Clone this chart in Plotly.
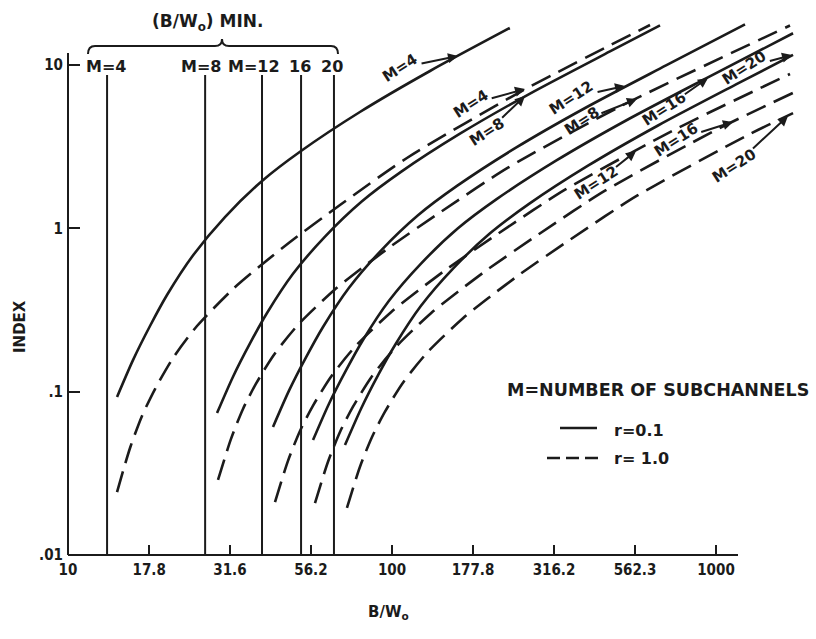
import plotly.graph_objects as go

# ---------------------------------------------------------------
# data
# ---------------------------------------------------------------
M_VALUES = [4, 8, 12, 16, 20]
BW_MIN = [13.2, 26.5, 39.7, 52.4, 66.2]          # (B/W0) minimum per M

# r = 0.1 (solid)
bw_r01_m4 = [14.17, 15.87, 17.91, 20.21, 24.36, 30.51, 39.71, 52.38, 79.6, 131.0, 231]
idx_r01_m4 = [0.0928, 0.156, 0.2523, 0.3906, 0.6867, 1.173, 1.95, 2.975, 5.155, 9.19, 16.85]
bw_r01_m8 = [28.84, 32.31, 36.45, 41.14, 49.48, 62.12, 80.8, 106.6, 162.1, 266.7, 470.8, 671.8]
idx_r01_m8 = [0.0740, 0.1235, 0.1975, 0.3031, 0.5268, 0.890, 1.464, 2.216, 3.796, 6.69, 12.11, 17.48]
bw_r01_m12 = [42.93, 48.10, 54.27, 61.24, 73.68, 92.47, 120.3, 158.7, 241.3, 397.1, 701.0, 1229]
idx_r01_m12 = [0.0608, 0.1014, 0.1621, 0.2488, 0.4324, 0.7307, 1.202, 1.818, 3.117, 5.493, 9.94, 17.75]
bw_r01_m16 = [57.05, 63.91, 72.11, 81.37, 97.88, 122.9, 159.8, 210.9, 320.8, 527.6, 931.3, 1729]
idx_r01_m16 = [0.0506, 0.0844, 0.1350, 0.2072, 0.360, 0.6082, 1.0, 1.514, 2.595, 4.574, 8.28, 15.65]
bw_r01_m20 = [71.6, 80.25, 90.5, 102.2, 122.9, 154.3, 200.7, 264.8, 402.6, 662.2, 1169, 1729]
idx_r01_m20 = [0.0471, 0.0786, 0.1258, 0.1931, 0.3355, 0.5668, 0.932, 1.411, 2.418, 4.263, 7.715, 11.54]

# r = 1.0 (dashed)
bw_r10_m4 = [14.17, 15.54, 16.92, 18.56, 21.09, 25.01, 32.31, 39.14, 48.44, 69.1, 111.2, 248.3, 625.7]
idx_r10_m4 = [0.0243, 0.0452, 0.0710, 0.1038, 0.1607, 0.2523, 0.4252, 0.5881, 0.8247, 1.389, 2.696, 6.83, 17.57]
bw_r10_m8 = [29.04, 31.85, 34.68, 38.04, 43.23, 51.28, 66.22, 80.25, 99.3, 141.7, 228.0, 509.2, 1692]
idx_r10_m8 = [0.0288, 0.0514, 0.0784, 0.1119, 0.1684, 0.2567, 0.4181, 0.5661, 0.7774, 1.264, 2.351, 5.61, 17.45]
bw_r10_m12 = [43.54, 47.75, 52.0, 57.05, 64.82, 76.88, 99.3, 120.3, 148.9, 212.4, 342.0, 763.2, 1692]
idx_r10_m12 = [0.0211, 0.0377, 0.0575, 0.0821, 0.1235, 0.1883, 0.3066, 0.4151, 0.5701, 0.927, 1.724, 4.114, 8.81]
bw_r10_m16 = [57.85, 63.46, 69.1, 75.8, 86.13, 102.2, 131.9, 159.8, 197.8, 282.2, 454.4, 1014, 1729]
idx_r10_m16 = [0.0208, 0.0372, 0.0567, 0.0809, 0.1218, 0.1856, 0.3022, 0.4093, 0.5621, 0.914, 1.70, 4.057, 6.756]
bw_r10_m20 = [72.6, 79.6, 86.77, 95.15, 108.1, 128.2, 165.6, 200.7, 248.3, 354.3, 570.5, 1273, 1729]
idx_r10_m20 = [0.0194, 0.0346, 0.0528, 0.0754, 0.1135, 0.1729, 0.2817, 0.3815, 0.5239, 0.852, 1.584, 3.780, 5.07]

X_TICKS = [10, 17.8, 31.6, 56.2, 100, 177.8, 316.2, 562.3, 1000]
X_TICK_TEXT = ["10", "17.8", "31.6", "56.2", "100", "177.8", "316.2", "562.3", "1000"]
Y_TICKS = [0.01, 0.1, 1, 10]
Y_TICK_TEXT = [".01", ".1", "1", "10"]

# ---------------------------------------------------------------
# layout geometry
# ---------------------------------------------------------------
W, H = 816, 639
ML, MR, MT, MB = 68, 16, 10, 84
PW, PH = W - ML - MR, H - MT - MB
PX_PER_DECADE_X = 324.0
PX_PER_DECADE_Y = 163.33
X_RANGE = [1.0, 1.0 + PW / PX_PER_DECADE_X]
Y_RANGE = [-2.0, -2.0 + PH / PX_PER_DECADE_Y]
VLINE_TOP = 8.7

INK = "#1b1b1b"
FONT = "DejaVu Sans"


def fx(x):
    """page x pixel -> paper fraction"""
    return (x - ML) / PW


def fy(y):
    """page y pixel -> paper fraction"""
    return (H - MB - y) / PH


fig = go.Figure()

# (B/W0) min verticals
for b in BW_MIN:
    fig.add_trace(go.Scatter(x=[b, b], y=[0.01, VLINE_TOP], mode="lines",
                             line=dict(color=INK, width=2), hoverinfo="skip",
                             showlegend=False))

solid = [(bw_r01_m4, idx_r01_m4), (bw_r01_m8, idx_r01_m8), (bw_r01_m12, idx_r01_m12),
         (bw_r01_m16, idx_r01_m16), (bw_r01_m20, idx_r01_m20)]
dashed = [(bw_r10_m4, idx_r10_m4), (bw_r10_m8, idx_r10_m8), (bw_r10_m12, idx_r10_m12),
          (bw_r10_m16, idx_r10_m16), (bw_r10_m20, idx_r10_m20)]

for (xs, ys), m in zip(solid, M_VALUES):
    fig.add_trace(go.Scatter(x=xs, y=ys, mode="lines", name=f"M={m}, r=0.1",
                             line=dict(color=INK, width=2.6, shape="spline", smoothing=0.7),
                             showlegend=False))
for (xs, ys), m in zip(dashed, M_VALUES):
    fig.add_trace(go.Scatter(x=xs, y=ys, mode="lines", name=f"M={m}, r=1.0",
                             line=dict(color=INK, width=2.6, shape="spline", smoothing=0.7,
                                       dash="21px,9px"),
                             showlegend=False))

shapes = [
    # axis lines
    dict(type="line", xref="paper", yref="paper", x0=0, x1=fx(738), y0=0, y1=0,
         line=dict(color=INK, width=2)),
    dict(type="line", xref="paper", yref="paper", x0=0, x1=0, y0=0, y1=fy(53),
         line=dict(color=INK, width=2)),
    # brace over the minimum labels
    dict(type="path", xref="paper", yref="paper",
         path=(f"M {fx(88)},{fy(54)} Q {fx(88)},{fy(46)} {fx(95)},{fy(46)} "
               f"L {fx(215)},{fy(46)} Q {fx(222)},{fy(46)} {fx(222)},{fy(39)} "
               f"Q {fx(222)},{fy(46)} {fx(229)},{fy(46)} L {fx(331)},{fy(46)} "
               f"Q {fx(338)},{fy(46)} {fx(338)},{fy(54)}"),
         line=dict(color=INK, width=2)),
    # legend samples
    dict(type="line", xref="paper", yref="paper", x0=fx(560), x1=fx(597),
         y0=fy(428), y1=fy(428), line=dict(color=INK, width=2.6)),
    dict(type="line", xref="paper", yref="paper", x0=fx(547), x1=fx(599),
         y0=fy(458), y1=fy(458), line=dict(color=INK, width=2.6, dash="13px,6px")),
]

ann = []


def text(s, x, y, size=15, angle=0, xanchor="center"):
    ann.append(dict(text=s, x=fx(x), y=fy(y), xref="paper", yref="paper",
                    showarrow=False, textangle=angle, xanchor=xanchor, yanchor="middle",
                    font=dict(family=FONT, size=size, color=INK, weight="bold")))


def pointer(s, center, head, size=15, angle=-33):
    """curve label placed at `center`, with an arrow running to `head` on the curve"""
    ann.append(dict(text=s, x=fx(head[0]), y=fy(head[1]), xref="paper", yref="paper",
                    showarrow=True, ax=center[0] - head[0], ay=center[1] - head[1],
                    arrowhead=2, arrowsize=1, arrowwidth=2, arrowcolor=INK,
                    standoff=0, textangle=angle,
                    font=dict(family=FONT, size=size, color=INK, weight="bold")))


# minimum labels
text("(B/W<sub>o</sub>) MIN.", 207, 23, 17)
for lab, x in zip(["M=4", "M=8", "M=12", "16", "20"], [106, 201, 254, 300, 332]):
    text(lab, x, 67, 16)

# curve labels with pointers
curve_labels = [("M=4", (400, 68), (458, 56)), ("M=4", (471, 104), (525, 89)),
                ("M=8", (487, 132), (525, 96)), ("M=12", (571, 98), (625, 86)),
                ("M=8", (582, 121), (637, 99)), ("M=16", (664, 109), (708, 78)),
                ("M=20", (744, 68), (792, 55)), ("M=16", (676, 140), (733, 122)),
                ("M=12", (596, 183), (636, 151)), ("M=20", (734, 166), (788, 116))]
for lab, c, h in curve_labels:
    pointer(lab, c, h)

# legend
text("M=NUMBER OF SUBCHANNELS", 505, 390, 17.5, xanchor="left")
text("r=0.1", 612, 430, 16, xanchor="left")
text("r= 1.0", 612, 458, 16, xanchor="left")

# axis titles
text("INDEX", 20, 327, 15, angle=-90)
text("B/W<sub>o</sub>", 388, 612, 15)

fig.update_layout(
    width=W, height=H,
    margin=dict(l=ML, r=MR, t=MT, b=MB, pad=0),
    paper_bgcolor="white", plot_bgcolor="white",
    shapes=shapes, annotations=ann,
    xaxis=dict(type="log", range=X_RANGE, showgrid=False, zeroline=False, showline=False,
               tickvals=X_TICKS, ticktext=X_TICK_TEXT, ticks="inside", ticklen=10,
               tickwidth=2, tickcolor=INK, ticklabelstandoff=4,
               tickfont=dict(family="DejaVu Sans Condensed", size=15, color=INK, weight="bold")),
    yaxis=dict(type="log", range=Y_RANGE, showgrid=False, zeroline=False, showline=False,
               tickvals=Y_TICKS, ticktext=Y_TICK_TEXT, ticks="inside", ticklen=12,
               tickwidth=2, tickcolor=INK, ticklabelstandoff=4,
               tickfont=dict(family="DejaVu Sans Condensed", size=15, color=INK, weight="bold")),
)

fig.write_html("out.html")
